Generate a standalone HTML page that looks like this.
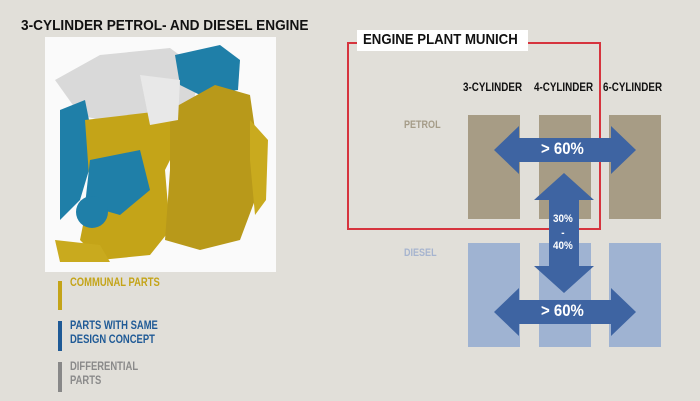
<!DOCTYPE html>
<html><head><meta charset="utf-8"><style>
body{margin:0;width:700px;height:401px;background:#e1dfd9;position:relative;overflow:hidden;font-family:"Liberation Sans",sans-serif;font-weight:bold}
.t{position:absolute;white-space:nowrap;transform-origin:0 0;transform:scaleX(0.82)}
</style></head><body>
<div class="t" style="left:21px;top:17px;font-size:15px;color:#111;transform:scaleX(0.91)">3-CYLINDER PETROL- AND DIESEL ENGINE</div>
<svg width="700" height="401" style="position:absolute;left:0;top:0">
<rect x="45" y="37" width="231" height="235" fill="#fafafa"/>
<path d="M55 80 L100 55 L170 48 L200 70 L190 120 L140 130 L80 115 Z" fill="#d9d9d9"/>
<path d="M175 55 L220 45 L240 60 L238 90 L200 95 L180 85 Z" fill="#1f7fa8"/>
<path d="M60 110 L85 100 L95 150 L80 200 L60 220 Z" fill="#1f7fa8"/>
<path d="M85 120 L170 110 L180 140 L165 170 L170 230 L150 255 L100 260 L80 240 L90 190 Z" fill="#c4a418"/>
<path d="M90 160 L140 150 L150 190 L120 215 L85 205 Z" fill="#1f7fa8"/>
<circle cx="92" cy="212" r="16" fill="#1f7fa8"/>
<path d="M170 110 L215 85 L250 95 L258 150 L255 200 L240 240 L200 250 L165 240 L170 170 Z" fill="#b8991a"/>
<path d="M250 120 L268 140 L266 200 L255 215 L250 160 Z" fill="#c9aa1e"/>
<path d="M55 240 L100 245 L110 262 L60 262 Z" fill="#c9aa1e"/>
<path d="M140 75 L180 80 L178 120 L150 125 Z" fill="#e8e8e8"/>
<rect x="58" y="281" width="4" height="29" fill="#c4a418"/>
<rect x="58" y="321" width="4" height="30" fill="#1f5a96"/>
<rect x="58" y="362" width="4" height="30" fill="#888"/>
<g fill="#a79c85">
<rect x="468" y="115" width="52" height="104"/><rect x="539" y="115" width="52" height="104"/><rect x="609" y="115" width="52" height="104"/></g>
<g fill="#9fb3d2">
<rect x="468" y="243" width="52" height="104"/><rect x="539" y="243" width="52" height="104"/><rect x="609" y="243" width="52" height="104"/></g>
<rect x="348" y="43" width="252" height="186" fill="none" stroke="#d6343e" stroke-width="2"/>
<rect x="357" y="30" width="171" height="21" fill="#fff"/>
<g fill="#3e64a2">
<path d="M494 150 L519 126 L519 138 L611 138 L611 126 L636 150 L611 174 L611 162 L519 162 L519 174 Z"/>
<path d="M494 312 L519 288 L519 300 L611 300 L611 288 L636 312 L611 336 L611 324 L519 324 L519 336 Z"/>
<path d="M564 173 L594 200 L579 200 L579 266 L594 266 L564 293 L534 266 L549 266 L549 200 L534 200 Z"/>
</g>
</svg>
<div class="t" style="left:70px;top:277px;font-size:11.5px;color:#c4a418">COMMUNAL PARTS</div>
<div class="t" style="left:70px;top:319px;font-size:11.5px;color:#1f5a96;line-height:14px">PARTS WITH SAME<br>DESIGN CONCEPT</div>
<div class="t" style="left:70px;top:360px;font-size:11.5px;color:#8a8a8a;line-height:14px">DIFFERENTIAL<br>PARTS</div>
<div class="t" style="left:363px;top:31px;font-size:15px;color:#111;transform:scaleX(0.88)">ENGINE PLANT MUNICH</div>
<div class="t" style="left:463px;top:80px;font-size:12px;color:#111">3-CYLINDER</div>
<div class="t" style="left:534px;top:80px;font-size:12px;color:#111">4-CYLINDER</div>
<div class="t" style="left:603px;top:80px;font-size:12px;color:#111">6-CYLINDER</div>
<div class="t" style="left:404px;top:119px;font-size:11px;color:#a59c88">PETROL</div>
<div class="t" style="left:404px;top:247px;font-size:11px;color:#a6b4cf">DIESEL</div>
<div class="t" style="left:541px;top:139px;font-size:17px;color:#fff;transform:scaleX(0.88)">&gt; 60%</div>
<div class="t" style="left:541px;top:301px;font-size:17px;color:#fff;transform:scaleX(0.88)">&gt; 60%</div>
<div class="t" style="left:553px;top:213px;font-size:11px;color:#fff;text-align:center;line-height:13.5px;transform:scaleX(0.9)">30%<br>-<br>40%</div>
</body></html>
